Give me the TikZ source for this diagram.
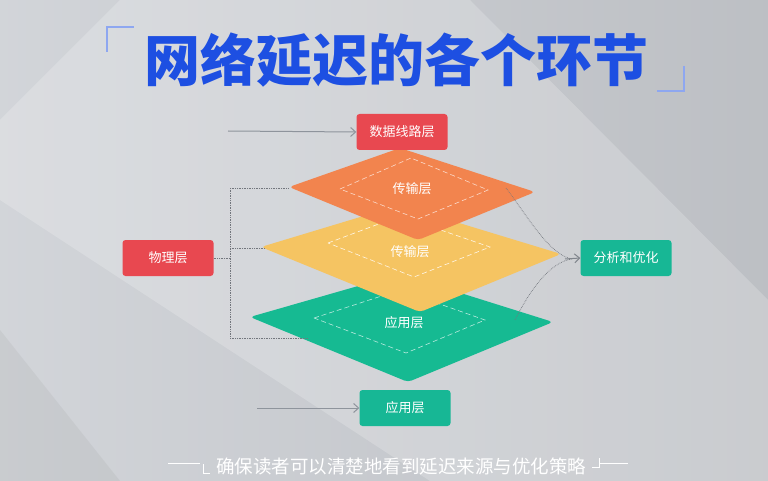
\documentclass[tikz,border=0pt]{standalone}
\usepackage{fontspec}
\newfontfamily\cjk{Noto Sans CJK SC}
\newfontfamily\cjkb{Noto Sans CJK SC Black}
\usetikzlibrary{arrows.meta,shadings}
\definecolor{bg}{HTML}{CDD0D5}
\definecolor{rd}{HTML}{E84850}
\definecolor{tl}{HTML}{17B795}
\definecolor{og}{HTML}{F2844E}
\definecolor{yl}{HTML}{F5C462}
\definecolor{gr}{HTML}{16BA92}
\definecolor{tb}{HTML}{1D4FE2}
\definecolor{ln}{HTML}{8E949C}
\tikzset{
 box/.style={rounded corners=3pt,minimum width=91pt,minimum height=36pt,text=white,font=\cjk\fontsize{13}{15}\selectfont},
 inner/.style={draw=white!85!yl,dashed,line width=0.6pt,dash pattern=on 5pt off 3pt},
 con/.style={draw=ln!80!black,densely dotted,line width=0.7pt},
 arr/.style={draw=ln,line width=1pt,-{Straight Barb[length=5pt,width=9pt]}},
 lab/.style={text=white,font=\cjk\fontsize{13}{15}\selectfont}
}
\begin{document}
\begin{tikzpicture}[x=1pt,y=-1pt]
\useasboundingbox (0,0) rectangle (768,481);
\shade[left color=bg!90!white,right color=bg!92!black] (0,0) rectangle (768,481);
\fill[white,opacity=0.2] (0,120) -- (120,0) -- (470,0) -- (768,300) -- (768,481) -- (430,481) -- (0,200) -- cycle;
\fill[black!40,opacity=0.15] (0,330) -- (0,481) -- (120,481) -- cycle;
% title
\node[text=tb,font=\cjkb\fontsize{56}{60}\selectfont] (title) at (396,60) {网络延迟的各个环节};
\draw[tb!50!white,line width=1.5pt] (107,52) -- (107,27) -- (134,27);
\draw[tb!50!white,line width=1.5pt] (684,66) -- (684,91) -- (657,91);
% diamonds
\fill[gr,rounded corners=4pt] (250,317) -- (400,274) -- (553,322) -- (408,382) -- cycle;
\draw[inner,draw=white!70!gr] (314,318) -- (400,290) -- (485,320) -- (406,353) -- cycle;
\fill[yl,rounded corners=4pt] (261,247) -- (400,205) -- (561,254) -- (420,312) -- cycle;
\draw[inner] (328,243) -- (400,216) -- (490,247) -- (414,277) -- cycle;
\fill[og,rounded corners=4pt] (289,187) -- (400,148) -- (535,192) -- (418,240) -- cycle;
\draw[inner,draw=white!70!og] (340,189) -- (411,158) -- (488,190) -- (418,219) -- cycle;
\node[lab] (l1) at (412,189) {传输层};
\node[lab] (l2) at (410,252) {传输层};
\node[lab] (l3) at (404,323) {应用层};
% boxes
\node[box,fill=rd] (top) at (402,132) {数据线路层};
\node[box,fill=rd] (phy) at (168,258) {物理层};
\node[box,fill=tl] (ana) at (626,258) {分析和优化};
\node[box,fill=tl] (app) at (405,408) {应用层};
\coordinate (ta) at (228,131);
\coordinate (ba) at (257,408);
\draw[arr] (ta) -- (top.west);
\draw[arr] (ba) -- (app.west);
% left dotted bracket
\coordinate (bx) at (230,258);
\draw[con] (phy.east) -- (bx);
\draw[con] (230,188) -- (230,338);
\draw[con] (230,188) -- (289,188);
\draw[con] (230,248) -- (265,248);
\draw[con] (230,338) -- (308,338);
% right dotted curves
\coordinate (oR) at (506,188);
\coordinate (gR) at (515,320);
\coordinate (ah) at (572,259);
\draw[con] (oR) .. controls (530,220) and (550,255) .. (ah);
\draw[con] (gR) .. controls (530,290) and (550,262) .. (ah);
\draw[arr,draw=ln!90!black] (565,259) -- (ana.west);
% subtitle
\node[text=white,font=\cjk\fontsize{18.5}{20}\selectfont] (sub) at (401,466) {确保读者可以清楚地看到延迟来源与优化策略};
\draw[white,line width=1pt] (168,463) -- (200,463);
\draw[white,line width=1pt] (203,464) -- (203,473) -- (210,473);
\draw[white,line width=1pt] (599,458) -- (599,467) -- (592,467);
\draw[white,line width=1pt] (600,463) -- (628,463);
\end{tikzpicture}
\end{document}
